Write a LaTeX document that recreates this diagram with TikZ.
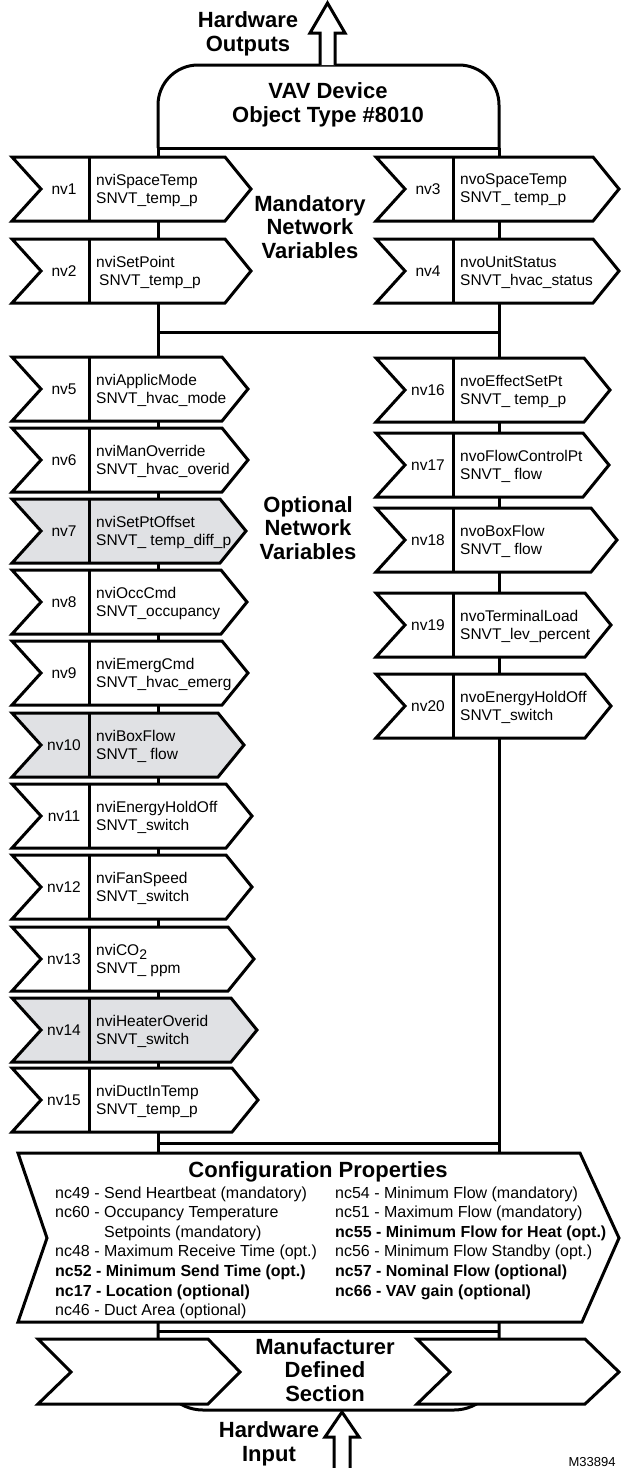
\documentclass[tikz,border=0pt]{standalone}
\usepackage{fontspec}
\setmainfont{Liberation Sans}
\usetikzlibrary{positioning}

\definecolor{nvgray}{RGB}{224,225,228}

\tikzset{
  bus/.style={line width=3pt},
  nvshape/.style={line width=3pt, fill=white},
  nvnum/.style={font=\fontsize{15.5}{18}\selectfont, inner sep=0pt},
  nvtext/.style={font=\fontsize{15.5}{18}\selectfont, align=left, inner sep=0pt, anchor=west},
  heading/.style={font=\bfseries\fontsize{22}{23.5}\selectfont, align=center, inner sep=0pt},
  cfgline/.style={font=\fontsize{16}{19}\selectfont, inner sep=0pt, anchor=base west}
}

% one network variable arrow: [fill] name, left x, top y, tip x, text
\newcommand{\nvarrow}[6][white]{%
  \draw[nvshape, fill=#1] (#3,#4) -- (#5-26,#4) -- (#5,#4+32) -- (#5-26,#4+64)
    -- (#3,#4+64) -- (#3+29,#4+32) -- cycle;
  \draw[bus] (#3+77,#4) -- (#3+77,#4+64);
  \node[nvnum] (#2) at (#3+52,#4+32) {#2};
  \node[nvtext] (#2txt) at (#3+84,#4+33) {#6};
}

\begin{document}
\begin{tikzpicture}[x=1pt, y=-1pt]
\useasboundingbox (0,0) rectangle (621,1468);

% device box and bus
\draw[bus, rounded corners=40pt] (158,148) -- (158,65) -- (499,65) -- (499,148);
\draw[bus] (158,148) -- (499,148);
\draw[bus] (158,148) -- (158,1153);
\draw[bus] (499,148) -- (499,1153);
\draw[bus] (158,332) -- (499,332);
\draw[bus] (158,1143) -- (499,1143);

\node[heading] (device) at (328,105) {VAV Device\\Object Type \#8010};
\draw[bus, fill=white] (320,65) -- (320,33) -- (310,33) -- (327.5,3) -- (345,33) -- (335,33) -- (335,65);
\node[heading] (hwout) at (248,34) {Hardware\\Outputs};

% mandatory
\nvarrow{nv1}{12}{157}{251}{nviSpaceTemp\\SNVT\_temp\_p}
\nvarrow{nv2}{12}{239}{251}{nviSetPoint\\\hspace*{3pt}SNVT\_temp\_p}
\nvarrow{nv3}{376}{157}{619}{nvoSpaceTemp\\SNVT\_ temp\_p}
\nvarrow{nv4}{376}{239}{619}{nvoUnitStatus\\SNVT\_hvac\_status}
\node[heading] (mandatory) at (310,227) {Mandatory\\Network\\Variables};

% optional
\nvarrow{nv5}{12}{357}{248}{nviApplicMode\\SNVT\_hvac\_mode}
\nvarrow{nv6}{12}{428}{248}{nviManOverride\\SNVT\_hvac\_overid}
\nvarrow[nvgray]{nv7}{12}{499}{246}{nviSetPtOffset\\SNVT\_ temp\_diff\_p}
\nvarrow{nv8}{12}{570}{247}{nviOccCmd\\SNVT\_occupancy}
\nvarrow{nv9}{12}{641}{248}{nviEmergCmd\\SNVT\_hvac\_emerg}
\nvarrow[nvgray]{nv10}{12}{713}{244}{nviBoxFlow\\SNVT\_ flow}
\nvarrow{nv11}{12}{784}{252}{nviEnergyHoldOff\\SNVT\_switch}
\nvarrow{nv12}{12}{855}{252}{nviFanSpeed\\SNVT\_switch}
\nvarrow{nv13}{12}{927}{254}{nviCO\raisebox{-4pt}{\fontsize{14}{14}\selectfont 2}\\SNVT\_ ppm}
\nvarrow[nvgray]{nv14}{12}{998}{257}{nviHeaterOverid\\SNVT\_switch}
\nvarrow{nv15}{12}{1068}{258}{nviDuctInTemp\\SNVT\_temp\_p}

\nvarrow{nv16}{376}{358}{610}{nvoEffectSetPt\\SNVT\_ temp\_p}
\nvarrow{nv17}{376}{433}{609}{nvoFlowControlPt\\SNVT\_ flow}
\nvarrow{nv18}{376}{508}{617}{nvoBoxFlow\\SNVT\_ flow}
\nvarrow{nv19}{376}{593}{611}{nvoTerminalLoad\\SNVT\_lev\_percent}
\nvarrow{nv20}{376}{674}{611}{nvoEnergyHoldOff\\SNVT\_switch}
\node[heading] (optional) at (308,528) {Optional\\Network\\Variables};

% configuration properties
\draw[nvshape] (18,1153) -- (580,1153) -- (619,1238) -- (582,1322) -- (18,1322) -- (47,1238) -- cycle;
\node[heading] (config) at (318,1172) {Configuration Properties};
\foreach \txt [count=\i] in {nc49 - Send Heartbeat (mandatory),
    nc60 - Occupancy Temperature, \phantom{nc60 - }Setpoints (mandatory),
    nc48 - Maximum Receive Time (opt.), \textbf{nc52 - Minimum Send Time (opt.)},
    \textbf{nc17 - Location (optional)}, nc46 - Duct Area (optional)}
  \node[cfgline] (cfgL\i) at (55,1198+19.6*\i-19.6) {\txt};
\foreach \txt [count=\i] in {nc54 - Minimum Flow (mandatory),
    nc51 - Maximum Flow (mandatory), \textbf{nc55 - Minimum Flow for Heat (opt.)},
    nc56 - Minimum Flow Standby (opt.), \textbf{nc57 - Nominal Flow (optional)},
    \textbf{nc66 - VAV gain (optional)}}
  \node[cfgline] (cfgR\i) at (335,1198+19.6*\i-19.6) {\txt};

% manufacturer section
\draw[bus, rounded corners=45pt] (158,1322) -- (158,1410) -- (499,1410) -- (499,1322);
\draw[bus] (158,1331) -- (499,1331);
\draw[nvshape] (38,1339) -- (208,1339) -- (240,1372) -- (208,1404) -- (38,1404) -- (71,1372) -- cycle;
\draw[nvshape] (417,1339) -- (585,1339) -- (619,1372) -- (585,1404) -- (417,1404) -- (450,1372) -- cycle;
\node[heading] (manuf) at (325,1370) {Manufacturer\\Defined\\Section};

\draw[bus, fill=white] (334,1470) -- (334,1437) -- (325,1437) -- (342,1412) -- (359,1437) -- (350,1437) -- (350,1470);
\node[heading] (hwin) at (269,1444) {Hardware\\Input};

\node[font=\fontsize{13}{13}\selectfont, inner sep=0pt] (figno) at (592,1462) {M33894};
\end{tikzpicture}
\end{document}
